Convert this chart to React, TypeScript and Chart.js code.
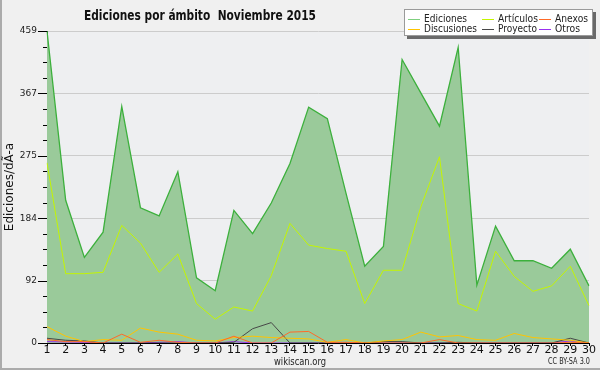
import React, { useEffect, useRef } from "react";
import { Chart, registerables } from "chart.js";

Chart.register(...registerables);

const days = ["1","2","3","4","5","6","7","8","9","10","11","12","13","14","15","16","17","18","19","20","21","22","23","24","25","26","27","28","29","30"];
const ediciones = [459, 210, 126, 163, 348, 199, 187, 252, 96, 77, 195, 161, 206, 264, 347, 330, 220, 113, 142, 417, 368, 319, 435, 85, 172, 121, 121, 110, 138, 84];
const articulos = [265, 102, 102, 104, 173, 147, 104, 131, 58, 35, 53, 47, 99, 176, 144, 139, 135, 58, 107, 107, 200, 274, 58, 47, 135, 98, 76, 84, 113, 55];
const anexos = [5, 2, 2, 0, 13, 1, 4, 1, 0, 0, 10, 0, 0, 16, 17, 1, 1, 0, 0, 0, 0, 5, 0, 0, 0, 0, 0, 0, 1, 0];
const discusiones = [24, 10, 2, 5, 4, 22, 16, 13, 4, 3, 8, 10, 8, 7, 6, 1, 5, 0, 3, 5, 16, 9, 11, 5, 4, 14, 8, 6, 4, 0];
const proyecto = [7, 4, 3, 0, 0, 0, 0, 0, 0, 0, 1, 21, 30, 0, 0, 0, 0, 0, 2, 2, 0, 0, 1, 0, 0, 0, 0, 0, 7, 0];
const otros = [2, 1.5, 1, 0, 0, 0, 1, 2, 0, 0, 2, 0, 0, 0, 0, 0, 0, 0, 0, 0, 0, 0, 0, 0, 0, 0, 0, 0, 3, 0];

const Y_MAX = 459;
const Y_MINOR_DIVS = 20;
const yMajorLabels = ["0", "92", "184", "275", "367", "459"];

const TITLE = "Ediciones por ámbito  Noviembre 2015";
const Y_TITLE = "Ediciones/dÃ-a";
const FONT = "'DejaVu Sans', sans-serif";

export default function App() {
  const ref = useRef<HTMLCanvasElement | null>(null);

  useEffect(() => {
    const canvas = ref.current;
    if (!canvas) return;

    const fitText = (ctx: CanvasRenderingContext2D, text: string, x: number, y: number, maxW: number) => {
      const w = ctx.measureText(text).width;
      if (w > maxW) ctx.fillText(text, x, y, maxW);
      else ctx.fillText(text, x, y);
    };

    const decor = {
      id: "decor",
      beforeDraw(chart: any) {
        const { ctx, chartArea: a } = chart;
        ctx.save();
        ctx.fillStyle = "#f0f0f0";
        ctx.fillRect(0, 0, chart.width, chart.height);
        ctx.fillStyle = "#eeeff1";
        ctx.fillRect(a.left, a.top, a.right - a.left, a.bottom - a.top);
        ctx.fillStyle = "#ababab";
        ctx.fillRect(0, 0, 2, chart.height);
        ctx.fillRect(0, chart.height - 2, chart.width, 2);
        ctx.restore();
      },
      afterDraw(chart: any) {
        const { ctx, chartArea: a } = chart;
        const y = chart.scales.y;
        ctx.save();
        ctx.strokeStyle = "#000";
        ctx.lineWidth = 1;
        y.ticks.forEach((t: any, i: number) => {
          const py = Math.round(y.getPixelForValue(t.value)) + 0.5;
          const len = i % 4 === 0 ? 9 : 4;
          ctx.beginPath();
          ctx.moveTo(a.left - len, py);
          ctx.lineTo(a.left, py);
          ctx.stroke();
        });
        ctx.fillStyle = "#111";
        ctx.font = "bold 14px " + FONT;
        ctx.textAlign = "center";
        ctx.textBaseline = "middle";
        fitText(ctx, TITLE, 200, 16, 232);
        ctx.font = "11px " + FONT;
        ctx.fillStyle = "#222";
        fitText(ctx, "wikiscan.org", 300, 362, 52);
        ctx.font = "8px " + FONT;
        ctx.textAlign = "right";
        fitText(ctx, "CC BY-SA 3.0", 590, 362, 42);
        const bx = 404, by = 9, bw = 189, bh = 27;
        ctx.fillStyle = "#6a6a6a";
        ctx.fillRect(bx + 3, by + 3, bw, bh);
        ctx.fillStyle = "#ffffff";
        ctx.fillRect(bx, by, bw, bh);
        ctx.strokeStyle = "#9a9a9a";
        ctx.strokeRect(bx + 0.5, by + 0.5, bw - 1, bh - 1);
        const colX = [408, 482, 539];
        const rowY = [19, 29];
        const maxW = [43, 40, 33, 53, 39, 25];
        ctx.font = "11px " + FONT;
        ctx.textAlign = "left";
        chart.data.datasets.forEach((ds: any, i: number) => {
          const cx = colX[i % 3];
          const cy = rowY[Math.floor(i / 3)];
          ctx.strokeStyle = ds.legendColor || ds.borderColor;
          ctx.lineWidth = 1;
          ctx.beginPath();
          ctx.moveTo(cx, cy + 0.5);
          ctx.lineTo(cx + 12, cy + 0.5);
          ctx.stroke();
          ctx.fillStyle = "#222";
          fitText(ctx, ds.label, cx + 16, cy, maxW[i]);
        });
        ctx.restore();
      },
    };

    const mk = (label: string, data: number[], color: string, extra: any = {}) => ({
      label,
      data,
      borderColor: color,
      borderWidth: 1,
      pointRadius: 0,
      tension: 0,
      fill: false,
      ...extra,
    });

    const chart = new Chart(canvas, {
      type: "line",
      data: {
        labels: days,
        datasets: [
          mk("Ediciones", ediciones, "#3cb03c", {
            fill: "origin",
            backgroundColor: "#9aca9a",
            borderWidth: 1.3,
            legendColor: "#7fcf7f",
          }),
          mk("Artículos", articulos, "#c4f500"),
          mk("Anexos", anexos, "#ff6a28"),
          mk("Discusiones", discusiones, "#ffc400"),
          mk("Proyecto", proyecto, "#484848"),
          mk("Otros", otros, "#9a30f0"),
        ],
      },
      options: {
        responsive: false,
        animation: false,
        events: [],
        layout: { padding: { top: 31, right: 11, left: 0, bottom: 0 } },
        plugins: {
          legend: { display: false },
          title: { display: false },
          tooltip: { enabled: false },
          filler: { drawTime: "beforeDatasetsDraw" },
        },
        scales: {
          x: {
            type: "category",
            offset: false,
            border: { color: "#000", width: 1 },
            grid: { drawOnChartArea: false, drawTicks: true, tickLength: 3, tickColor: "#000" },
            ticks: {
              color: "#111",
              font: { family: FONT, size: 11 },
              padding: -2,
              maxRotation: 0,
              autoSkip: false,
            },
            afterFit(s: any) {
              s.height = 27;
            },
          },
          y: {
            min: 0,
            max: Y_MAX,
            border: { color: "#000", width: 1 },
            afterBuildTicks(s: any) {
              const t = [];
              for (let i = 0; i <= Y_MINOR_DIVS; i++) t.push({ value: (Y_MAX * i) / Y_MINOR_DIVS });
              s.ticks = t;
            },
            grid: {
              drawTicks: false,
              color: (c: any) => (c.index % 4 === 0 && c.index > 0 ? "#cccccc" : "rgba(0,0,0,0)"),
            },
            ticks: {
              color: "#222",
              font: { family: FONT, size: 9 },
              padding: 10,
              autoSkip: false,
              callback: (_v: any, i: number) => (i % 4 === 0 ? yMajorLabels[i / 4] : ""),
            },
            title: {
              display: true,
              text: Y_TITLE,
              color: "#111",
              font: { family: FONT, size: 12 },
              padding: { top: 3, bottom: 0 },
            },
            afterFit(s: any) {
              s.width = 47;
            },
          },
        },
      },
      plugins: [decor],
    } as any);

    return () => chart.destroy();
  }, []);

  return (
    <div style={{ position: "absolute", left: 0, top: 0, width: 600, height: 370 }}>
      <canvas ref={ref} width={600} height={370} style={{ display: "block", width: 600, height: 370 }} />
    </div>
  );
}
